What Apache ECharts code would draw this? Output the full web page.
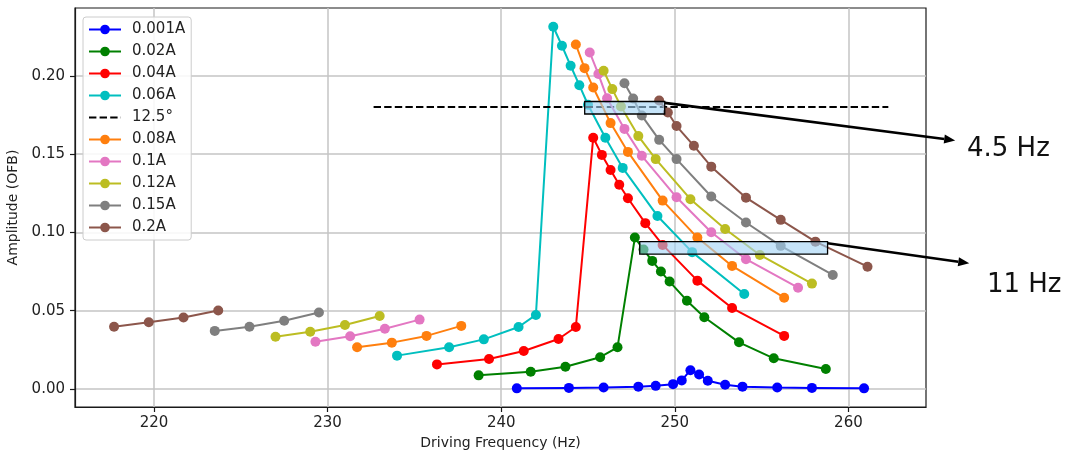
<!DOCTYPE html>
<html>
<head>
<meta charset="utf-8">
<script src="https://cdn.jsdelivr.net/npm/echarts@6/dist/echarts.min.js"></script>
<style>
html,body{margin:0;padding:0;background:#fff;}
#chart{width:1065px;height:452px;}
</style>
</head>
<body>
<div id="chart"></div>
<script>
// ---------- data ----------
const seriesNames = ['0.001A','0.02A','0.04A','0.06A','12.5°','0.08A','0.1A','0.12A','0.15A','0.2A'];
const colors = ['#0000ff','#008000','#ff0000','#00bfbf','#000000','#ff7f0e','#e377c2','#bcbd22','#7f7f7f','#8c564b'];

const f_001 = [240.9, 243.9, 245.9, 247.9, 248.9, 249.9, 250.4, 250.9, 251.4, 251.9, 252.9, 253.9, 255.9, 257.9, 260.9];
const a_001 = [0.0004, 0.0007, 0.0009, 0.0015, 0.0020, 0.0031, 0.0055, 0.0120, 0.0093, 0.0053, 0.0027, 0.0015, 0.0009, 0.0007, 0.0004];

const f_02 = [238.7, 241.7, 243.7, 245.7, 246.7, 247.7, 248.2, 248.7, 249.2, 249.7, 250.7, 251.7, 253.7, 255.7, 258.7];
const a_02 = [0.0087, 0.0110, 0.0142, 0.0203, 0.0266, 0.0967, 0.0890, 0.0818, 0.0750, 0.0686, 0.0564, 0.0458, 0.0298, 0.0196, 0.0128];

const f_04 = [236.3, 239.3, 241.3, 243.3, 244.3, 245.3, 245.8, 246.3, 246.8, 247.3, 248.3, 249.3, 251.3, 253.3, 256.3];
const a_04 = [0.0157, 0.0191, 0.0243, 0.0319, 0.0396, 0.1604, 0.1495, 0.1399, 0.1304, 0.1218, 0.1059, 0.0920, 0.0692, 0.0517, 0.0339];

const f_06 = [234.0, 237.0, 239.0, 241.0, 242.0, 243.0, 243.5, 244.0, 244.5, 245.0, 246.0, 247.0, 249.0, 251.0, 254.0];
const a_06 = [0.0213, 0.0266, 0.0317, 0.0396, 0.0473, 0.2313, 0.2192, 0.2064, 0.1940, 0.1815, 0.1604, 0.1412, 0.1105, 0.0874, 0.0607];

// higher currents: separate low (left) and high (right) branches
const f_08_low = [231.7, 233.7, 235.7, 237.7];
const a_08_low = [0.0266, 0.0296, 0.0339, 0.0403];
const f_08_high = [244.3, 244.8, 245.3, 246.3, 247.3, 249.3, 251.3, 253.3, 256.3];
const a_08_high = [0.2200, 0.2049, 0.1925, 0.1698, 0.1514, 0.1203, 0.0967, 0.0786, 0.0583];

const f_1_low = [229.3, 231.3, 233.3, 235.3];
const a_1_low = [0.0302, 0.0337, 0.0385, 0.0443];
const f_1_high = [245.1, 245.6, 246.1, 247.1, 248.1, 250.1, 252.1, 254.1, 257.1];
const a_1_high = [0.2149, 0.2011, 0.1857, 0.1661, 0.1489, 0.1224, 0.1001, 0.0829, 0.0647];

const f_12_low = [227.0, 229.0, 231.0, 233.0];
const a_12_low = [0.0334, 0.0366, 0.0409, 0.0466];
const f_12_high = [245.9, 246.4, 246.9, 247.9, 248.9, 250.9, 252.9, 254.9, 257.9];
const a_12_high = [0.2032, 0.1915, 0.1804, 0.1615, 0.1468, 0.1212, 0.1022, 0.0856, 0.0673];

const f_15_low = [223.5, 225.5, 227.5, 229.5];
const a_15_low = [0.0371, 0.0398, 0.0436, 0.0488];
const f_15_high = [247.1, 247.6, 248.1, 249.1, 250.1, 252.1, 254.1, 256.1, 259.1];
const a_15_high = [0.1953, 0.1855, 0.1746, 0.1591, 0.1468, 0.1229, 0.1063, 0.0914, 0.0728];

const f_2_low = [217.7, 219.7, 221.7, 223.7];
const a_2_low = [0.0398, 0.0426, 0.0456, 0.0501];
const f_2_high = [249.1, 249.6, 250.1, 251.1, 252.1, 254.1, 256.1, 258.1, 261.1];
const a_2_high = [0.1842, 0.1766, 0.1679, 0.1553, 0.1420, 0.1222, 0.1080, 0.0941, 0.0781];

// 12.5 degree reference line
const refLineX = [232.65, 262.3];
const refLineY = [0.18, 0.18];

// highlighted boxes [x1, y1, x2, y2]
const box1 = [244.81, 0.1756, 249.42, 0.1836];
const box2 = [247.98, 0.0861, 258.80, 0.0941];

// annotations (data coordinates)
const arrowFrom = [[249.42, 0.1827], [258.80, 0.0931]];
const arrowTo = [[266.15, 0.1587], [266.96, 0.0803]];
const labelText = ['4.5 Hz', '11 Hz'];
const labelPos = [[266.83, 0.1530], [267.98, 0.0662]];

// axes
const xTicks = [220, 230, 240, 250, 260];
const yTicks = [0.00, 0.05, 0.10, 0.15, 0.20];
const xRange = [215.45, 264.47];
const yRange = [-0.0115, 0.2433];

// ---------- build ----------
const FONT = 'DejaVu Sans';
function zip(xs, ys) { return xs.map((x, i) => [x, ys[i]]); }
function branches(xl, yl, xh, yh) { return zip(xl, yl).concat([['-', '-']], zip(xh, yh)); }

const dataList = [
  zip(f_001, a_001),
  zip(f_02, a_02),
  zip(f_04, a_04),
  zip(f_06, a_06),
  zip(refLineX, refLineY),
  branches(f_08_low, a_08_low, f_08_high, a_08_high),
  branches(f_1_low, a_1_low, f_1_high, a_1_high),
  branches(f_12_low, a_12_low, f_12_high, a_12_high),
  branches(f_15_low, a_15_low, f_15_high, a_15_high),
  branches(f_2_low, a_2_low, f_2_high, a_2_high)
];

const series = seriesNames.map((name, i) => {
  const isRef = name === '12.5°';
  return {
    name: name,
    type: 'line',
    data: dataList[i],
    connectNulls: false,
    symbol: isRef ? 'none' : 'circle',
    symbolSize: 10,
    showSymbol: !isRef,
    itemStyle: { color: colors[i] },
    lineStyle: isRef ? { color: colors[i], width: 2, type: [7.4, 3.2] } : { color: colors[i], width: 2 },
    emphasis: { disabled: true },
    z: 2 + i * 0.01
  };
});

series.push({
  name: 'boxes',
  type: 'line',
  data: [],
  z: 10,
  markArea: {
    silent: true,
    z: 10,
    itemStyle: { color: 'rgba(160,210,245,0.6)', borderColor: '#000', borderWidth: 1.3 },
    label: { show: false },
    data: [box1, box2].map(b => [{ coord: [b[0], b[3]] }, { coord: [b[2], b[1]] }])
  }
});

const axisCommon = {
  type: 'value',
  axisLine: { show: true, onZero: false, lineStyle: { color: '#1a1a1a', width: 1.2 } },
  axisTick: { show: true, length: 5, lineStyle: { color: '#1a1a1a', width: 1.2 } },
  splitLine: { show: true, lineStyle: { color: '#c4c4c4', width: 1.5 } },
  nameTextStyle: { fontFamily: FONT, fontSize: 14, color: '#222' }
};

const legendData = seriesNames.map(n => n === '12.5°'
  ? { name: n, itemStyle: { opacity: 0 } }
  : { name: n });

const chart = echarts.init(document.getElementById('chart'), null, { renderer: 'canvas' });
chart.setOption({
  animation: false,
  backgroundColor: '#fff',
  grid: { left: 75, right: 139, top: 8, bottom: 45, show: true, borderColor: '#1a1a1a', borderWidth: 1.2,
    containLabel: false, outerBoundsMode: 'none' },
  xAxis: Object.assign({}, axisCommon, {
    min: xRange[0], max: xRange[1], splitNumber: 5,
    name: 'Driving Frequency (Hz)', nameLocation: 'middle', nameGap: 29,
    axisTick: Object.assign({}, axisCommon.axisTick, { customValues: xTicks }),
    axisLabel: { customValues: xTicks, fontFamily: FONT, fontSize: 15, color: '#222', margin: 9 }
  }),
  yAxis: Object.assign({}, axisCommon, {
    min: yRange[0], max: yRange[1], splitNumber: 5,
    name: 'Amplitude (OFB)', nameLocation: 'middle', nameGap: 51,
    axisTick: Object.assign({}, axisCommon.axisTick, { customValues: yTicks }),
    axisLabel: { customValues: yTicks, fontFamily: FONT, fontSize: 15, color: '#222', margin: 10,
      formatter: v => Number(v).toFixed(2) }
  }),
  legend: {
    data: legendData,
    orient: 'vertical',
    left: 83, top: 17,
    padding: [5, 6, 5, 5],
    itemWidth: 32, itemHeight: 12, itemGap: 7,
    backgroundColor: 'rgba(255,255,255,0.85)',
    borderColor: '#cccccc', borderWidth: 1, borderRadius: 3,
    textStyle: { fontFamily: FONT, fontSize: 15, color: '#222', lineHeight: 14, padding: [0, 0, 0, 6] },
    selectedMode: false
  },
  series: series
});

// annotations via the grid's coordinate conversion
const toPx = p => chart.convertToPixel({ gridIndex: 0 }, p);
const graphics = [];
arrowFrom.forEach((from, i) => {
  const a = toPx(from), b = toPx(arrowTo[i]);
  const dx = b[0] - a[0], dy = b[1] - a[1];
  const len = Math.sqrt(dx * dx + dy * dy);
  const ux = dx / len, uy = dy / len;
  const headLen = 11, headHalf = 4.5;
  const bx = b[0] - ux * headLen, by = b[1] - uy * headLen;
  graphics.push({ type: 'line', shape: { x1: a[0], y1: a[1], x2: bx, y2: by },
    style: { stroke: '#000', lineWidth: 2.6 }, z: 100 });
  graphics.push({ type: 'polygon', shape: { points: [
      [b[0], b[1]],
      [bx - uy * headHalf, by + ux * headHalf],
      [bx + uy * headHalf, by - ux * headHalf]
    ] }, style: { fill: '#000' }, z: 100 });
});
labelText.forEach((t, i) => {
  const p = toPx(labelPos[i]);
  graphics.push({ type: 'text', x: p[0], y: p[1], z: 100,
    style: { text: t, fontFamily: FONT, fontSize: 26, fill: '#111', align: 'left', verticalAlign: 'middle' } });
});
chart.setOption({ graphic: graphics });
</script>
</body>
</html>
